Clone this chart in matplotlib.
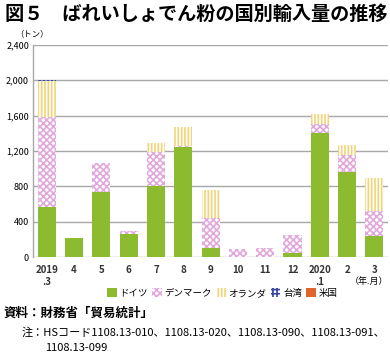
import numpy as np
import matplotlib.pyplot as plt
from matplotlib.patches import Patch

plt.rcParams['font.family'] = ['Noto Sans CJK JP', 'DejaVu Sans']
plt.rcParams['hatch.linewidth'] = 1.2

months = ['2019\n.3', '4', '5', '6', '7', '8', '9', '10', '11', '12', '2020\n.1', '2', '3']
germany = [570, 220, 740, 265, 800, 1250, 105, 0, 0, 45, 1405, 965, 240]
denmark = [1010, 0, 325, 25, 385, 10, 335, 95, 100, 205, 100, 190, 285]
netherlands = [410, 0, 0, 0, 110, 215, 320, 0, 0, 0, 110, 110, 365]
taiwan = [10, 0, 0, 0, 0, 0, 0, 0, 0, 0, 8, 0, 0]
usa = [0, 0, 0, 0, 0, 0, 0, 0, 0, 0, 0, 0, 0]

series = [
    ('ドイツ', germany, dict(color='#8DBB2F', linewidth=0)),
    ('デンマーク', denmark, dict(facecolor='white', edgecolor='#E2A8DC', hatch='xxxxx', linewidth=0)),
    ('オランダ', netherlands, dict(facecolor='white', edgecolor='#F2D478', hatch='|||||', linewidth=0)),
    ('台湾', taiwan, dict(facecolor='white', edgecolor='#3A4A9A', hatch='++++', linewidth=0)),
    ('米国', usa, dict(color='#E0652C', linewidth=0)),
]

fig = plt.figure(figsize=(3.9, 3.56), dpi=100)
ax = fig.add_axes([0.085, 0.278, 0.91, 0.596])

x = np.arange(len(months))
bottom = np.zeros(len(months))
handles = []
for name, vals, style in series:
    vals = np.array(vals, dtype=float)
    ax.bar(x, vals, width=0.66, bottom=bottom, zorder=3, **style)
    bottom += vals
    handles.append(Patch(label=name, **style))

ax.set_xlim(-0.5, 12.5)
ax.set_ylim(0, 2400)
ax.set_yticks(range(0, 2401, 400))
ax.set_yticklabels([f'{v:,}' for v in range(0, 2401, 400)], fontsize=6.5)
ax.set_xticks(x)
ax.set_xticklabels(months, fontsize=7, fontweight='bold', color='#333333', linespacing=1.2)
ax.tick_params(length=0, pad=6)
ax.tick_params(axis='y', pad=3)
ax.grid(axis='y', color='#A8A8A8', linewidth=1, zorder=0)
for s in ['top', 'right', 'bottom']:
    ax.spines[s].set_visible(False)
ax.spines['left'].set_color('#A8A8A8')
ax.spines['left'].set_linewidth(1)

fig.text(0.012, 0.96, '図５　ばれいしょでん粉の国別輸入量の推移', fontsize=13.8, fontweight='bold', va='center')
fig.text(0.04, 0.905, '（トン）', fontsize=6, va='center')
fig.text(0.995, 0.21, '（年.月）', fontsize=6.5, va='center', ha='right')

fig.legend(handles=handles, loc='center', bbox_to_anchor=(0.57, 0.177), ncol=5, frameon=False,
           fontsize=6.8, handlelength=1.0, handleheight=1.0, handletextpad=0.3, columnspacing=0.45)

fig.text(0.008, 0.121, '資料：財務省「貿易統計」', fontsize=9, fontweight='bold', va='center')
fig.text(0.055, 0.066, '注：HSコード1108.13-010、1108.13-020、1108.13-090、1108.13-091、',
         fontsize=8.0, va='center')
fig.text(0.115, 0.022, '1108.13-099', fontsize=8.0, va='center')

fig.savefig('out.png', dpi=100)
